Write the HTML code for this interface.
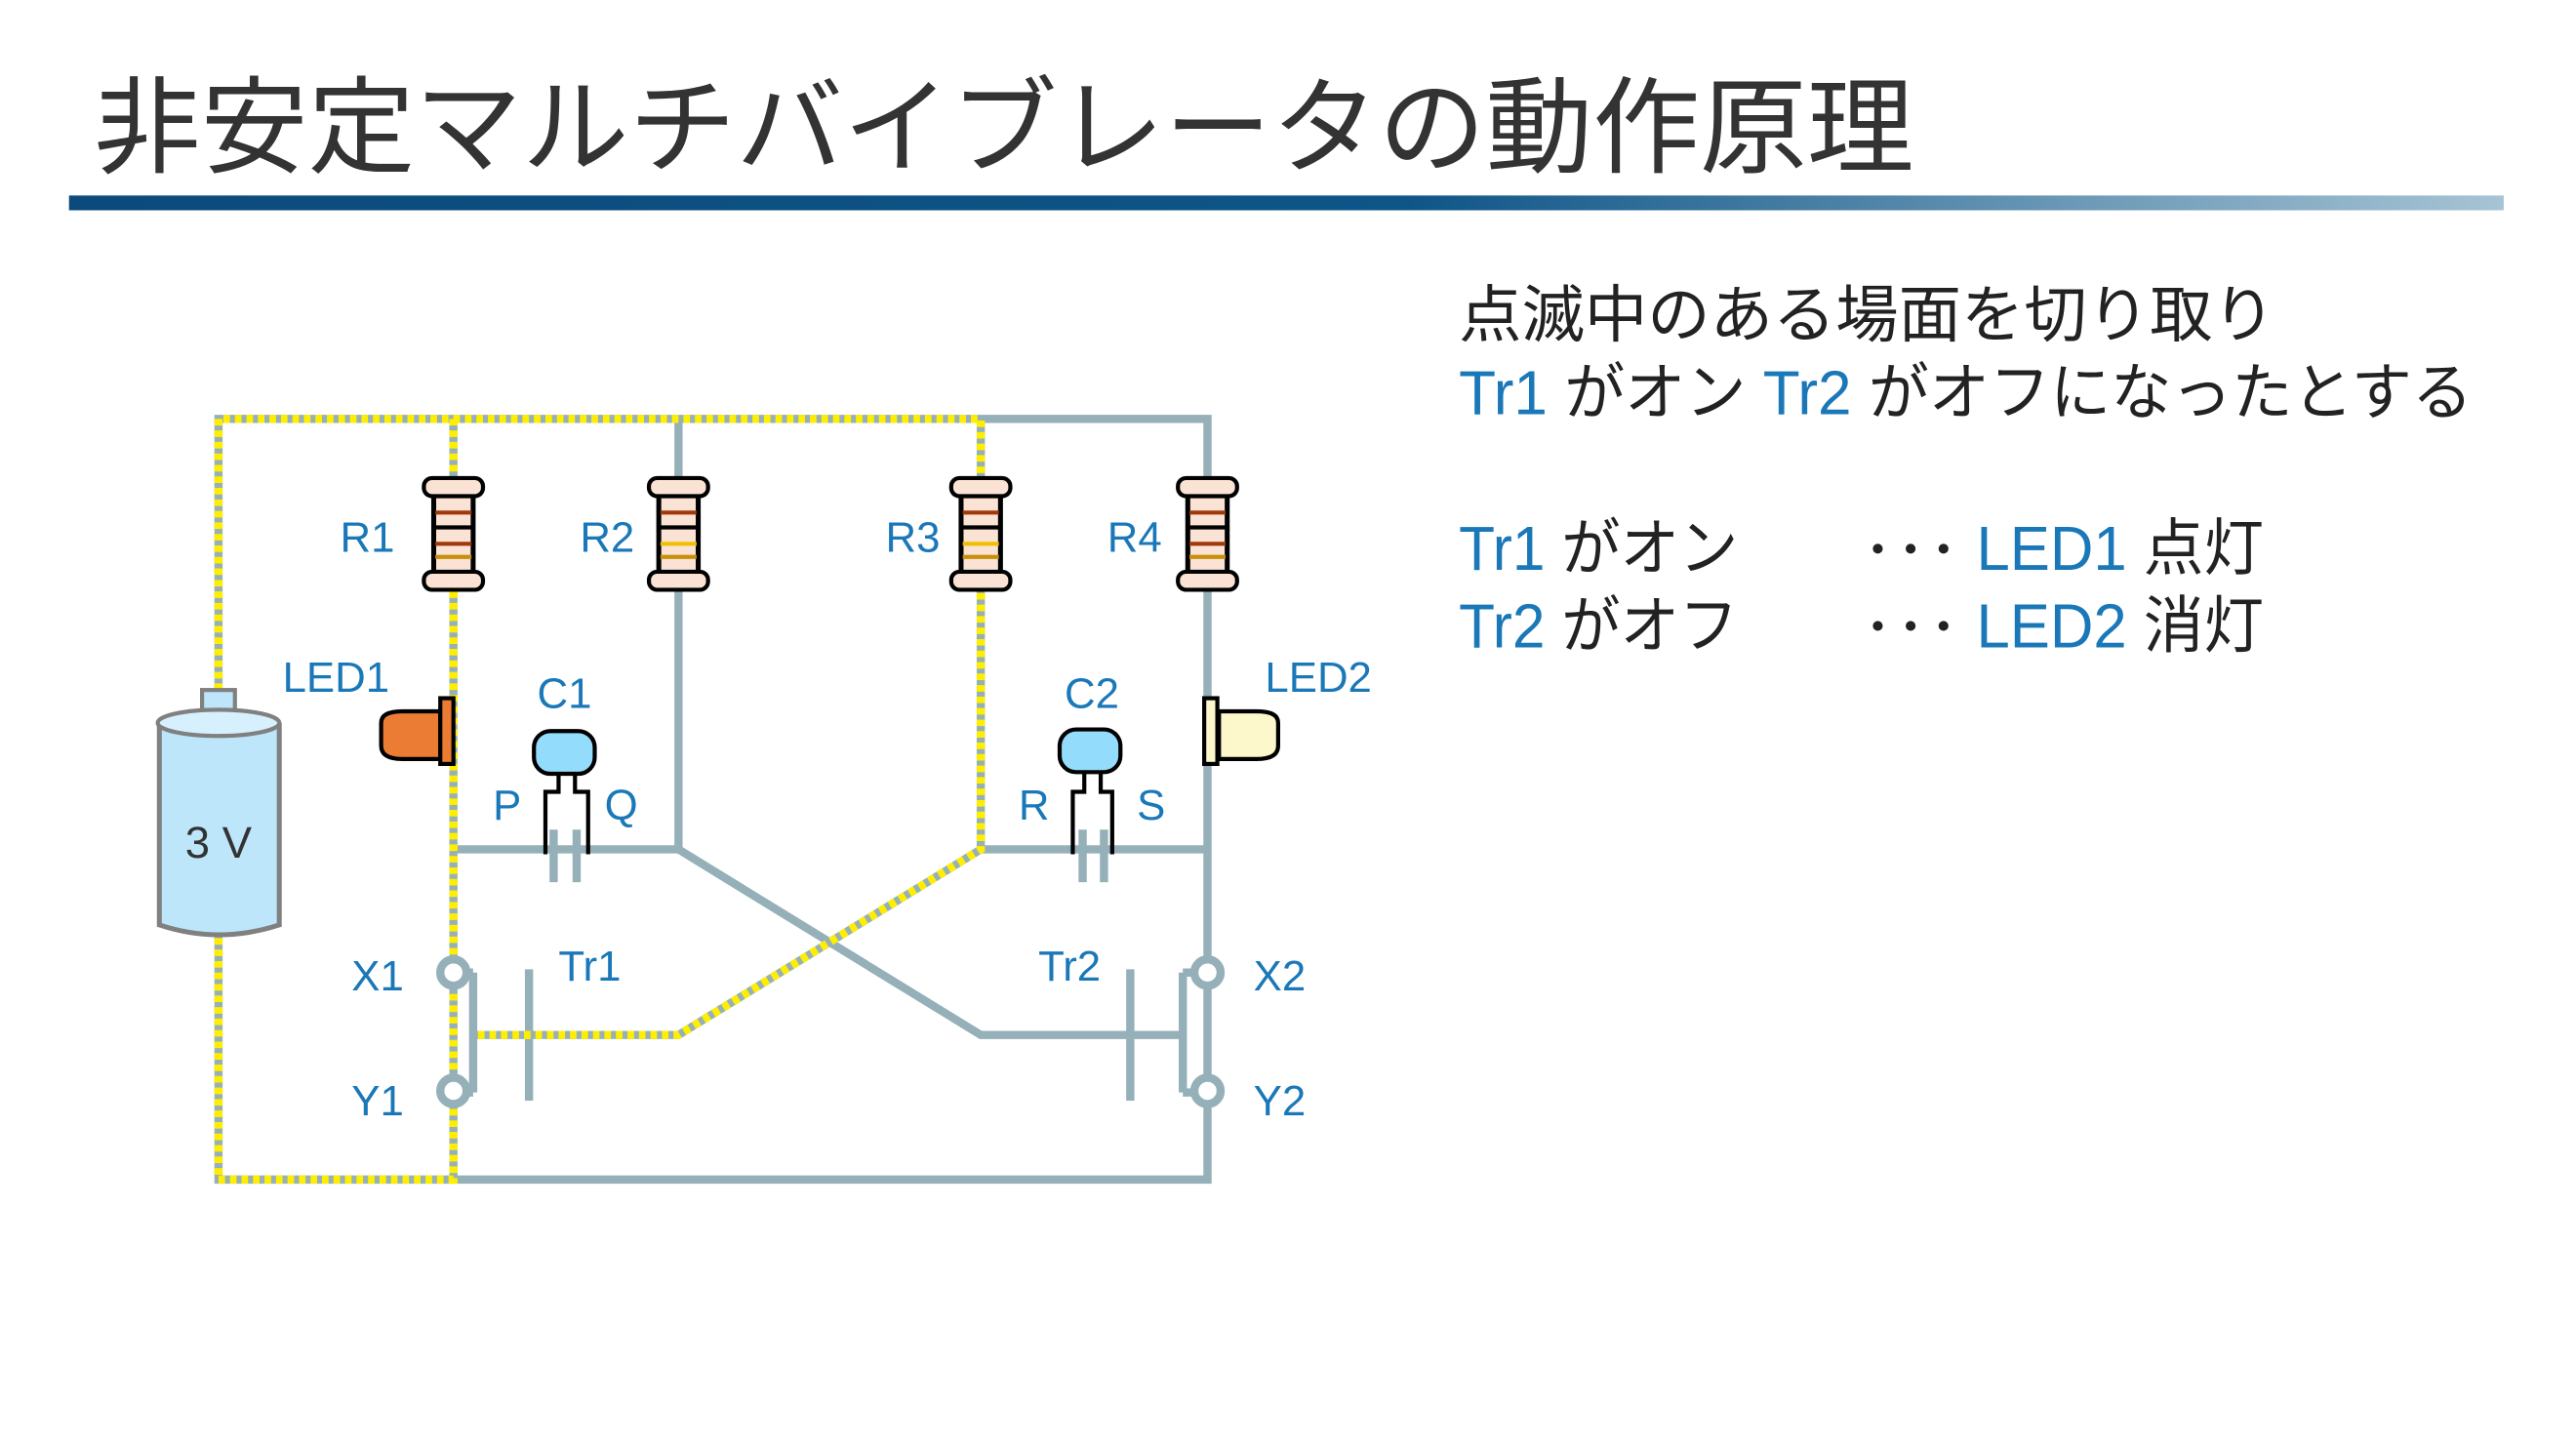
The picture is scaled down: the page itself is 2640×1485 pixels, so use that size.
<!DOCTYPE html>
<html><head><meta charset="utf-8"><style>
html,body{margin:0;padding:0;background:#fff;}
svg{display:block;}
text{font-family:"Liberation Sans","Noto Sans CJK JP",sans-serif;}
</style></head><body>
<svg width="2640" height="1485" viewBox="0 0 1568 882" xmlns="http://www.w3.org/2000/svg">
<defs>
<linearGradient id="bar" x1="0" x2="1" y1="0" y2="0">
<stop offset="0" stop-color="#0b4a7c"/><stop offset="0.55" stop-color="#0f5588"/><stop offset="1" stop-color="#a6c4d4"/>
</linearGradient>
<g id="res">
<rect x="-12" y="-28" width="24" height="56" fill="#fae3d4"/>
<path d="M-12,-27 L-12,27 M12,-27 L12,27" stroke="#000" stroke-width="3"/>
<rect x="-18" y="-34" width="36" height="11" rx="5" fill="#fae3d4" stroke="#000" stroke-width="2.5"/>
<rect x="-18" y="23" width="36" height="11" rx="5" fill="#fae3d4" stroke="#000" stroke-width="2.5"/>
</g>
</defs>
<text x="57" y="100" font-size="64" fill="#333" textLength="1108" lengthAdjust="spacingAndGlyphs">非安定マルチバイブレータの動作原理</text>
<rect x="42" y="119" width="1482" height="9" fill="url(#bar)"/>

<g font-size="38" fill="#222">
<text x="888" y="205" textLength="497" lengthAdjust="spacingAndGlyphs">点滅中のある場面を切り取り</text>
<text x="888" y="252" textLength="617" lengthAdjust="spacingAndGlyphs"><tspan fill="#1a78b8">Tr1</tspan> がオン <tspan fill="#1a78b8">Tr2</tspan> がオフになったとする</text>
<text x="888" y="347" textLength="170" lengthAdjust="spacingAndGlyphs"><tspan fill="#1a78b8">Tr1</tspan> がオン</text>
<text x="888" y="394" textLength="170" lengthAdjust="spacingAndGlyphs"><tspan fill="#1a78b8">Tr2</tspan> がオフ</text>
<text x="1203" y="347" textLength="175" lengthAdjust="spacingAndGlyphs"><tspan fill="#1a78b8">LED1</tspan> 点灯</text>
<text x="1203" y="394" textLength="175" lengthAdjust="spacingAndGlyphs"><tspan fill="#1a78b8">LED2</tspan> 消灯</text>
</g>
<g fill="#222">
<circle cx="1143" cy="334" r="3"/><circle cx="1163" cy="334" r="3"/><circle cx="1183" cy="334" r="3"/>
<circle cx="1143" cy="381" r="3"/><circle cx="1163" cy="381" r="3"/><circle cx="1183" cy="381" r="3"/>
</g>

<g stroke="#95b0b8" stroke-width="5" fill="none">
<path d="M133,255 H735 V718 H133 Z"/>
<path d="M276,255 V718"/>
<path d="M413,255 V517 H276"/>
<path d="M597,255 V517 H735"/>
<path d="M413,517 L597,630 H720"/>
<path d="M597,517 L413,630 H288"/>
<path d="M288,592 V665 M276,592 H288 M276,665 H288"/>
<path d="M322,590 V670"/>
<path d="M720,592 V665 M735,592 H720 M735,665 H720"/>
<path d="M688,590 V670"/>
<path d="M337,505 V537 M351,505 V537 M659,505 V537 M672,505 V537"/>
</g>
<g stroke="#ffee00" stroke-width="5" fill="none" stroke-dasharray="4 3">
<path d="M133,420 V255 H597 V517 L413,630 H288"/>
<path d="M276,255 V718 H133 V570"/>
</g>
<g fill="#fff" stroke="#95b0b8" stroke-width="5">
<circle cx="276" cy="592" r="8"/><circle cx="276" cy="664" r="8"/>
<circle cx="735" cy="592" r="8"/><circle cx="735" cy="664" r="8"/>
</g>
<use href="#res" x="276" y="325"/>
<use href="#res" x="413" y="325"/>
<use href="#res" x="597" y="325"/>
<use href="#res" x="735" y="325"/>
<g stroke-width="2.5">
<path d="M265,312H287" stroke="#a0380a"/><path d="M265,321H287" stroke="#000"/><path d="M265,331H287" stroke="#a0380a"/><path d="M265,339H287" stroke="#c8900a"/>
<path d="M402,312H424" stroke="#a0380a"/><path d="M402,321H424" stroke="#000"/><path d="M402,331H424" stroke="#f0c000"/><path d="M402,339H424" stroke="#c8900a"/>
<path d="M586,312H608" stroke="#a0380a"/><path d="M586,321H608" stroke="#000"/><path d="M586,331H608" stroke="#f0c000"/><path d="M586,339H608" stroke="#c8900a"/>
<path d="M724,312H746" stroke="#a0380a"/><path d="M724,321H746" stroke="#000"/><path d="M724,331H746" stroke="#a0380a"/><path d="M724,339H746" stroke="#c8900a"/>
</g>
<path d="M268,433 H245 Q232,433 232,440 V454 Q232,462 245,462 H268 Z" fill="#ea7d33" stroke="#000" stroke-width="2.5"/>
<rect x="268" y="425" width="8" height="40" fill="#ea7d33" stroke="#000" stroke-width="2.5"/>
<path d="M742,433 H765 Q778,433 778,440 V454 Q778,462 765,462 H742 Z" fill="#fdf8cc" stroke="#000" stroke-width="2.5"/>
<rect x="733" y="425" width="8" height="40" fill="#fdf8cc" stroke="#000" stroke-width="2.5"/>
<g stroke="#000" stroke-width="2.5" fill="none">
<path d="M332,520 V482 H340 V470 M358,520 V482 H350 V470"/>
<path d="M653,520 V482 H660 V470 M677,520 V482 H670 V470"/>
</g>
<rect x="325" y="445" width="37" height="26" rx="10" fill="#94dcfb" stroke="#000" stroke-width="2.5"/>
<rect x="645" y="444" width="37" height="26" rx="10" fill="#94dcfb" stroke="#000" stroke-width="2.5"/>
<rect x="123" y="420" width="20" height="14" fill="#bde6fb" stroke="#808080" stroke-width="2.5"/>
<path d="M97,440 V563 Q133,575 170,563 V440" fill="#bde6fb" stroke="#808080" stroke-width="3"/>
<ellipse cx="133" cy="440" rx="37" ry="8" fill="#d6f0fd" stroke="#808080" stroke-width="2.5"/>
<text x="133" y="522" font-size="27" fill="#333" text-anchor="middle">3 V</text>
<g font-size="26" fill="#1a78b8">
<text x="207" y="336">R1</text><text x="353" y="336">R2</text>
<text x="539" y="336">R3</text><text x="674" y="336">R4</text>
<text x="172" y="421">LED1</text><text x="770" y="421">LED2</text>
<text x="327" y="431">C1</text><text x="648" y="431">C2</text>
<text x="300" y="499">P</text><text x="368" y="499">Q</text>
<text x="620" y="499">R</text><text x="692" y="499">S</text>
<text x="214" y="603">X1</text><text x="214" y="679">Y1</text>
<text x="340" y="597">Tr1</text><text x="632" y="597">Tr2</text>
<text x="763" y="603">X2</text><text x="763" y="679">Y2</text>
</g>
</svg>
</body></html>
